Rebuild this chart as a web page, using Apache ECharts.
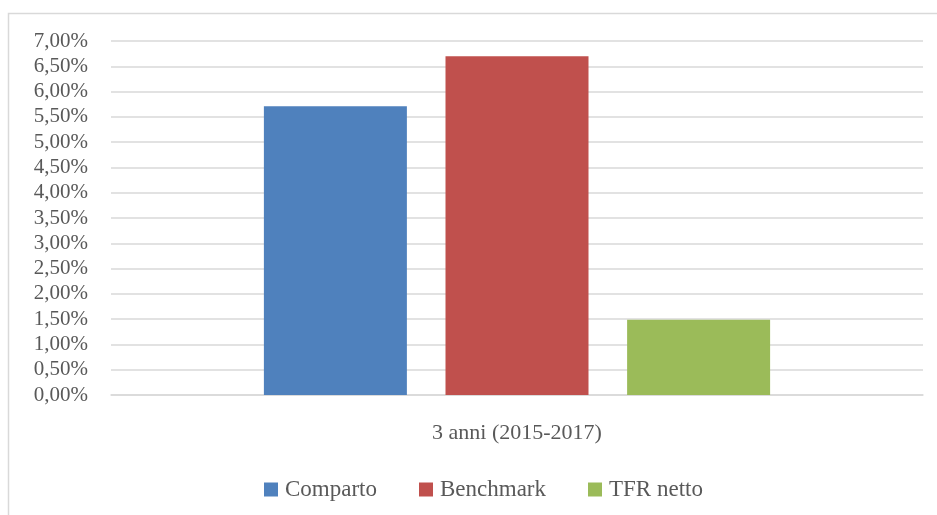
<!DOCTYPE html>
<html>
<head>
<meta charset="utf-8">
<script src="https://cdn.jsdelivr.net/npm/echarts@6/dist/echarts.min.js"></script>
<style>
html,body{margin:0;padding:0;background:#fff;}
#c{width:937px;height:515px;}
</style>
</head>
<body>
<div id="c"></div>
<script>
const categories = ['3 anni (2015-2017)'];
const seriesNames = ['Comparto', 'Benchmark', 'TFR netto'];
const comparto = [5.71];
const benchmark = [6.70];
const tfrNetto = [1.49];
const yTicks = { min: 0, max: 7, interval: 0.5 };

const colors = ['#4f81bd', '#c0504d', '#9bbb59'];
const font = '"Liberation Serif", "DejaVu Serif", serif';
const textColor = '#595959';

const chart = echarts.init(document.getElementById('c'), null, { renderer: 'canvas' });
const values = [comparto, benchmark, tfrNetto];
chart.setOption({
  animation: false,
  graphic: [{
    type: 'rect',
    shape: { x: 8.5, y: 13.5, width: 1000, height: 1000 },
    style: { fill: 'none', stroke: '#d9d9d9', lineWidth: 1.5 },
    silent: true
  }],
  grid: { left: 111, right: 14, top: 41, bottom: 120, containLabel: false },
  legend: {
    data: seriesNames,
    top: 473,
    left: 259,
    itemWidth: 14,
    itemHeight: 14,
    itemGap: 42,
    icon: 'rect',
    textStyle: { fontFamily: font, fontSize: 23, color: textColor, padding: [0, 0, 0, 2] }
  },
  xAxis: {
    type: 'category',
    data: categories,
    axisLine: { show: true, lineStyle: { color: '#d9d9d9', width: 1.5 } },
    axisTick: { show: false },
    axisLabel: { fontFamily: font, fontSize: 22, color: textColor, margin: 27 }
  },
  yAxis: {
    type: 'value',
    min: yTicks.min,
    max: yTicks.max,
    interval: yTicks.interval,
    axisLine: { show: false },
    axisTick: { show: false },
    splitLine: { lineStyle: { color: '#d9d9d9', width: 1.5 } },
    axisLabel: {
      fontFamily: font, fontSize: 21, color: textColor, margin: 23,
      formatter: v => v.toFixed(2).replace('.', ',') + '%'
    }
  },
  series: seriesNames.map((n, i) => ({
    name: n,
    type: 'bar',
    data: values[i],
    barWidth: 143,
    barGap: '27%',
    itemStyle: { color: colors[i] }
  }))
});
</script>
</body>
</html>
